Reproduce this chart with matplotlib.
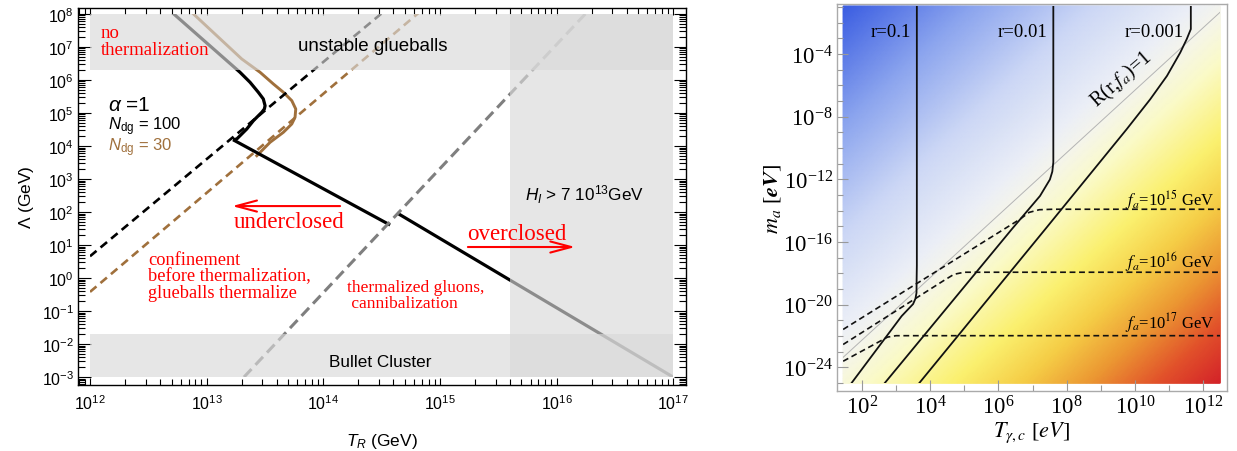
import numpy as np
import matplotlib
matplotlib.use("Agg")
import matplotlib.pyplot as plt
from matplotlib.patches import Rectangle
from matplotlib.colors import LinearSegmentedColormap, Normalize
from matplotlib.ticker import LogLocator, LogFormatterMathtext, NullFormatter, FixedLocator

plt.rcParams['font.family'] = ['Liberation Sans', 'DejaVu Sans']
plt.rcParams['mathtext.fontset'] = 'custom'
plt.rcParams['mathtext.rm'] = 'Liberation Sans'
plt.rcParams['mathtext.it'] = 'Liberation Sans:italic'
plt.rcParams['mathtext.bf'] = 'Liberation Sans:bold'

# ---------------- left panel: Lambda vs T_R (log10 GeV) ----------------
tr_lo, tr_hi = 1e12, 1e17
lam_lo, lam_hi = 1e-3, 1e8
glue_lo = 2e6          # unstable glueballs above this
bullet_hi = 2e-2       # Bullet Cluster below this
hinf_lo = 4e15         # H_I > 7 10^13 GeV to the right

# thermalization boundary, N_dg = 100 (solid black)
ndg100_lx = [12.50, 12.66, 13.286, 13.372, 13.443, 13.486, 13.501, 13.495, 13.473, 13.401, 13.344, 13.258, 13.226]
ndg100_ly = [8.68, 8.18, 6.233, 5.930, 5.627, 5.424, 5.221, 5.121, 5.021, 4.767, 4.515, 4.212, 4.19]
# thermalization boundary, N_dg = 30 (solid brown)
ndg30_lx = [12.68, 12.832, 13.301, 13.458, 13.572, 13.658, 13.730, 13.764, 13.758, 13.730, 13.658, 13.544, 13.430]
ndg30_ly = [8.68, 8.18, 6.636, 6.233, 5.879, 5.627, 5.373, 5.121, 4.870, 4.667, 4.415, 4.112, 3.706]
# relic abundance line (solid black), two pieces
omega1_lx = [13.226, 14.573]
omega1_ly = [4.19, 1.606]
omega2_lx = [14.633, 17.0]
omega2_ly = [1.97, -3.0]
# confinement = thermalization (dashed)
conf100_lx = [12.0, 14.60]
conf100_ly = [0.66, 8.31]
conf30_lx = [12.0, 14.90]
conf30_ly = [-0.42, 8.28]
# glueball decoupling (gray dashed)
cann_lx = [13.32, 16.30]
cann_ly = [-3.0, 8.2]

# ---------------- right panel: m_a vs T_gamma,c (log10 eV) ----------------
r01_lx = [3.61, 3.61, 3.604, 3.60, 3.57, 3.50, 3.164, 1.70]
r01_ly = [-0.5, -17.5, -18.38, -19.23, -19.60, -19.95, -20.72, -24.98]
r001_lx = [7.61, 7.61, 7.58, 7.51, 7.22, 6.39, 2.674]
r001_ly = [-0.5, -10.9, -11.5, -12.0, -13.05, -15.18, -24.98]
r0001_lx = [11.64, 11.64, 11.52, 11.33, 10.94, 10.45, 9.76, 7.37, 3.686]
r0001_ly = [-0.5, -2.4, -3.04, -3.9, -5.39, -6.88, -8.79, -15.18, -24.98]
fa15_lx = [1.45, 6.63, 6.90, 7.20, 7.60, 12.5]
fa15_ly = [-21.57, -14.54, -14.10, -13.93, -13.90, -13.90]
fa16_lx = [1.45, 4.40, 4.70, 5.00, 12.5]
fa16_ly = [-22.53, -18.45, -18.05, -17.92, -17.92]
fa17_lx = [1.45, 2.55, 2.75, 3.00, 12.5]
fa17_ly = [-23.60, -22.30, -22.06, -21.97, -21.97]
rline_lx = [1.45, 12.5]
rline_ly = [-23.35, -1.32]

# background shading: distance (decades) from R = 1, and its colours
bg_levels = [-24, -20, -16, -12, -8, -3, 0, 2, 8, 15, 23]
bg_colors = ['#d21e28', '#e1502a', '#eb9632', '#f5cd46', '#faf06e', '#fafac8',
             '#f5f5eb', '#eceff6', '#ccd7f5', '#8ca5ee', '#375ae1']

fig = plt.figure(figsize=(12.37, 4.52), dpi=100)
W, H = 1237, 452

# ======================= left panel =======================
ax = fig.add_axes([78 / W, (H - 386) / H, 608 / W, 377 / H])
ax.set_xscale('log')
ax.set_yscale('log')
ax.set_xlim(10 ** 11.897, 10 ** 17.11)
ax.set_ylim(10 ** -3.24, 10 ** 8.18)

clip = Rectangle((tr_lo, lam_lo), tr_hi - tr_lo, lam_hi - lam_lo, transform=ax.transData)

def pw(v):
    return 10 ** np.asarray(v)

lines = [
    ax.plot(pw(ndg100_lx), pw(ndg100_ly), color='black', lw=2.3, solid_capstyle='butt')[0],
    ax.plot(pw(ndg30_lx), pw(ndg30_ly), color='#a0703c', lw=2.1)[0],
    ax.plot(pw(omega1_lx), pw(omega1_ly), color='black', lw=2.3, solid_capstyle='butt')[0],
    ax.plot(pw(omega2_lx), pw(omega2_ly), color='black', lw=2.3, solid_capstyle='butt')[0],
    ax.plot(pw(conf100_lx), pw(conf100_ly), color='black', lw=1.9, dashes=(3.2, 2.0))[0],
    ax.plot(pw(conf30_lx), pw(conf30_ly), color='#a0703c', lw=1.9, dashes=(3.2, 2.0))[0],
    ax.plot(pw(cann_lx), pw(cann_ly), color='#7f7f7f', lw=2.2, dashes=(3.6, 1.9))[0],
]
for ln in lines:
    ln.set_clip_path(clip)
    ln.set_zorder(2)

# excluded regions drawn translucent over the curves
band_kw = dict(color='#d9d9d9', alpha=0.65, lw=0, zorder=3)
ax.fill_between([tr_lo, tr_hi], glue_lo, lam_hi, **band_kw)
ax.fill_between([tr_lo, tr_hi], lam_lo, bullet_hi, **band_kw)
ax.fill_between([hinf_lo, tr_hi], lam_lo, lam_hi, **band_kw)

red_kw = dict(color='red', family=['Liberation Serif', 'DejaVu Serif'], zorder=5)
ax.text(10 ** 12.09, 10 ** 7.18, 'no\nthermalization', fontsize=13.5, ha='left', va='center',
        linespacing=1.05, **red_kw)
ax.text(10 ** 14.42, 10 ** 7.03, 'unstable glueballs', fontsize=13.5, ha='center', va='center', zorder=5)
ax.text(10 ** 12.15, 10 ** 5.27, r'$\alpha$ =1', fontsize=15, ha='left', va='center', zorder=5)
ax.text(10 ** 12.15, 10 ** 4.60, r'$N_{\rm dg}$ = 100', fontsize=12, ha='left', va='center', zorder=5)
ax.text(10 ** 12.15, 10 ** 3.98, r'$N_{\rm dg}$ = 30', fontsize=12, ha='left', va='center',
        color='#a0703c', zorder=5)
ax.text(10 ** 15.73, 10 ** 2.55, r'$H_I$ > 7 10$^{13}$GeV', fontsize=12.3, ha='left', va='center', zorder=5)
ax.text(10 ** 12.5, 10 ** 0.06, 'confinement\nbefore thermalization,\nglueballs thermalize', fontsize=13.2,
        ha='left', va='center', linespacing=0.95, **red_kw)
ax.text(10 ** 14.2, 10 ** -0.52, 'thermalized gluons,\n cannibalization', fontsize=12.5,
        ha='left', va='center', linespacing=1.0, **red_kw)
ax.text(10 ** 14.49, 10 ** -2.52, 'Bullet Cluster', fontsize=12.3, ha='center', va='center', zorder=5)
ax.text(10 ** 13.71, 10 ** 1.545, 'underclosed', fontsize=16.5, ha='center', va='baseline', **red_kw)
ax.text(10 ** 15.66, 10 ** 1.18, 'overclosed', fontsize=16.5, ha='center', va='baseline', **red_kw)
arrow_kw = dict(arrowstyle='->,head_length=1.5,head_width=0.4', color='red', lw=1.5,
                shrinkA=0, shrinkB=0)
ax.annotate('', xy=(10 ** 13.218, 10 ** 2.18), xytext=(10 ** 14.144, 10 ** 2.18),
            arrowprops=arrow_kw, zorder=5)
ax.annotate('', xy=(10 ** 16.16, 10 ** 0.94), xytext=(10 ** 15.24, 10 ** 0.94),
            arrowprops=arrow_kw, zorder=5)

ax.set_xlabel(r'$T_R$ (GeV)', fontsize=12.5, labelpad=14)
ax.set_ylabel(r'$\Lambda$ (GeV)', fontsize=12.5, labelpad=4)
ax.xaxis.set_major_locator(LogLocator(base=10, numticks=20))
ax.yaxis.set_major_locator(LogLocator(base=10, numticks=20))
ax.xaxis.set_minor_locator(LogLocator(base=10, subs=np.arange(2, 10), numticks=20))
ax.yaxis.set_minor_locator(LogLocator(base=10, subs=np.arange(2, 10), numticks=20))
ax.xaxis.set_major_formatter(LogFormatterMathtext())
ax.yaxis.set_major_formatter(LogFormatterMathtext())
ax.xaxis.set_minor_formatter(NullFormatter())
ax.yaxis.set_minor_formatter(NullFormatter())
ax.tick_params(which='both', direction='in', top=True, right=True, labelsize=11.5, width=0.8)
ax.xaxis.set_tick_params(which='major', length=5, pad=6)
ax.xaxis.set_tick_params(which='minor', length=4)
ax.yaxis.set_tick_params(which='major', length=9, pad=3)
ax.yaxis.set_tick_params(which='minor', length=5)
for sp in ax.spines.values():
    sp.set_linewidth(1.0)

# ======================= right panel =======================
bx = fig.add_axes([837 / W, (H - 392) / H, 390 / W, 387 / H])
bx.set_xscale('log')
bx.set_yscale('log')
bx.set_xlim(10 ** 1.27, 10 ** 12.7)
bx.set_ylim(10 ** -25.5, 10 ** -0.8)

gx, gy = np.meshgrid(np.linspace(1.45, 12.5, 300), np.linspace(-25, -0.93, 300))
shade = gy - 2 * gx + 26.4
pos = (np.array(bg_levels) - bg_levels[0]) / (bg_levels[-1] - bg_levels[0])
bg_cmap = LinearSegmentedColormap.from_list('bg', list(zip(pos, bg_colors)))
bx.pcolormesh(10 ** gx, 10 ** gy, shade, cmap=bg_cmap, shading='gouraud',
              norm=Normalize(bg_levels[0], bg_levels[-1]), rasterized=True, zorder=0)

bclip = Rectangle((10 ** 1.45, 10 ** -25), 10 ** 12.5 - 10 ** 1.45, 10 ** -0.93 - 10 ** -25,
                  transform=bx.transData)
rlines = [bx.plot(pw(rline_lx), pw(rline_ly), color='#b4b4b4', lw=0.7)[0]]
for lx, ly in [(r01_lx, r01_ly), (r001_lx, r001_ly), (r0001_lx, r0001_ly)]:
    rlines.append(bx.plot(pw(lx), pw(ly), color='#111111', lw=1.3)[0])
for lx, ly in [(fa15_lx, fa15_ly), (fa16_lx, fa16_ly), (fa17_lx, fa17_ly)]:
    rlines.append(bx.plot(pw(lx), pw(ly), color='#111111', lw=1.2, dashes=(3.5, 2.2))[0])
for ln in rlines:
    ln.set_clip_path(bclip)

serif = ['Liberation Serif', 'DejaVu Serif']
for lxx, txt in [(3.44, 'r=0.1'), (7.43, 'r=0.01'), (11.44, 'r=0.001')]:
    bx.text(10 ** lxx, 10 ** -2.53, txt, fontsize=13.5, family=serif, ha='right', va='center')
for lyy, txt in [(-13.27, r'$f_a$=10$^{15}$ GeV'), (-17.23, r'$f_a$=10$^{16}$ GeV'),
                 (-21.12, r'$f_a$=10$^{17}$ GeV')]:
    bx.text(10 ** 12.35, 10 ** lyy, txt, fontsize=12, family=serif, ha='right', va='center',
            math_fontfamily='stix')
bx.text(10 ** 9.62, 10 ** -5.55, r'R(r,$f_a$)=1', fontsize=14.5, family=serif, ha='center', va='center',
        rotation=41, rotation_mode='anchor', math_fontfamily='stix')

bx.set_xlabel(r'$T_{\gamma,c}$ [$eV$]', fontsize=16, math_fontfamily='stix', family=serif, labelpad=1)
bx.set_ylabel(r'$\boldsymbol{m_a}$ [$\boldsymbol{eV}$]', fontsize=16, math_fontfamily='stix',
              family=serif, labelpad=0)

bx.xaxis.set_major_locator(FixedLocator([10.0 ** k for k in range(2, 13, 2)]))
bx.xaxis.set_minor_locator(FixedLocator([10.0 ** k for k in range(1, 13, 2)]))
bx.yaxis.set_major_locator(FixedLocator([10.0 ** k for k in range(-24, -3, 4)]))
bx.yaxis.set_minor_locator(FixedLocator([10.0 ** k for k in range(-25, 0)]))
bx.xaxis.set_major_formatter(LogFormatterMathtext())
bx.yaxis.set_major_formatter(LogFormatterMathtext())
bx.xaxis.set_minor_formatter(NullFormatter())
bx.yaxis.set_minor_formatter(NullFormatter())
bx.tick_params(which='both', direction='in', color='#999999', labelsize=16.5, width=0.8)
bx.tick_params(which='major', length=8, pad=3)
bx.tick_params(which='minor', length=4)
for sp in bx.spines.values():
    sp.set_color('#aaaaaa')
    sp.set_linewidth(1.0)

fig.canvas.draw()
for t in bx.get_xticklabels() + bx.get_yticklabels():
    t.set_math_fontfamily('stix')
    t.set_family(serif)

fig.savefig('out.png', dpi=100)
